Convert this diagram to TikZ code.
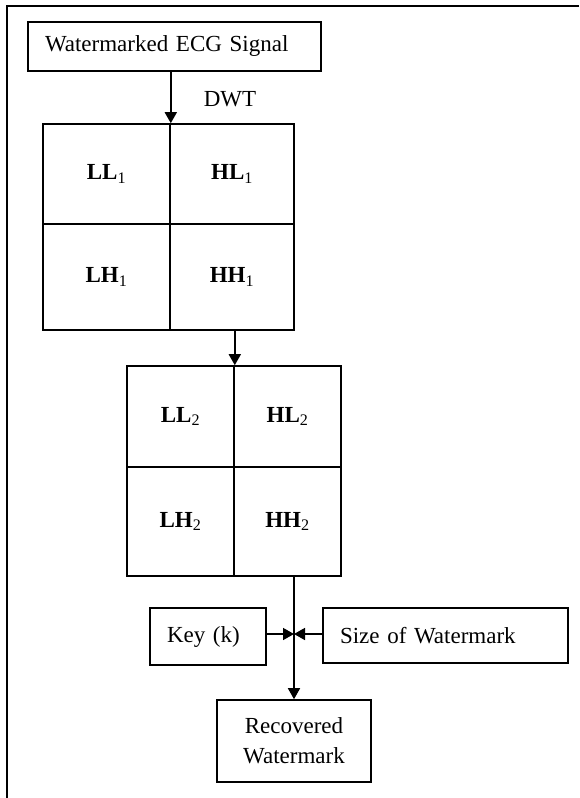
\documentclass[tikz,border=0pt]{standalone}
\usepackage{fontspec}
\setmainfont{Liberation Serif}
\usetikzlibrary{arrows.meta}
\begin{document}
\begin{tikzpicture}[x=1pt,y=-1pt,
  every node/.style={font=\fontsize{23}{30}\selectfont},
  box/.style={draw,line width=1.6pt,rectangle,inner sep=0pt},
  lbox/.style={box,inner xsep=17pt,align=left},
  cell/.style={draw,line width=1.6pt,rectangle,inner sep=0pt,font=\fontsize{23}{30}\selectfont\bfseries},
  arr/.style={line width=1.6pt,-{Triangle[width=12pt,length=11pt]}},
  ln/.style={line width=1.6pt}]
\useasboundingbox (0,0) rectangle (579,798);
% frame (top and left edges only)
\draw[ln] (579,6) -- (7,6) -- (7,798);
% top box
\node[lbox,minimum width=293pt,minimum height=49pt,text width=259pt] (top) at (174.5,46.5) {Watermarked ECG Signal};
\node (dwt) at (230,99) {DWT};
% grid 1
\node[cell,minimum width=127pt,minimum height=100pt] (LLa) at (106.5,174) {LL\textsubscript{\normalfont 1}};
\node[cell,minimum width=124pt,minimum height=100pt] (HLa) at (232,174) {HL\textsubscript{\normalfont 1}};
\node[cell,minimum width=127pt,minimum height=106pt] (LHa) at (106.5,277) {LH\textsubscript{\normalfont 1}};
\node[cell,minimum width=124pt,minimum height=106pt] (HHa) at (232,277) {HH\textsubscript{\normalfont 1}};
% grid 2
\node[cell,minimum width=107pt,minimum height=101pt] (LLb) at (180.5,416.5) {LL\textsubscript{\normalfont 2}};
\node[cell,minimum width=107pt,minimum height=101pt] (HLb) at (287.5,416.5) {HL\textsubscript{\normalfont 2}};
\node[cell,minimum width=107pt,minimum height=109pt] (LHb) at (180.5,521.5) {LH\textsubscript{\normalfont 2}};
\node[cell,minimum width=107pt,minimum height=109pt] (HHb) at (287.5,521.5) {HH\textsubscript{\normalfont 2}};
% lower boxes
\node[lbox,minimum width=116pt,minimum height=57pt,text width=82pt] (key) at (208,636.5) {Key (k)};
\node[lbox,minimum width=245pt,minimum height=55pt,text width=211pt] (size) at (445.5,635.5) {Size of Watermark};
\node[box,align=center,minimum width=154pt,minimum height=82pt] (rec) at (294,741) {Recovered\\Watermark};
\coordinate (j) at (294,634);
% connectors
\draw[arr] (top.south -| LLa.north east) -- (LLa.north east);
\draw[arr] (HHa.south -| LLb.north east) -- (LLb.north east);
\draw[arr] (HHb.south -| rec.north) -- (rec.north);
\draw[arr] (key.east |- j) -- (j);
\draw[arr] (size.west |- j) -- (j);
\end{tikzpicture}
\end{document}
